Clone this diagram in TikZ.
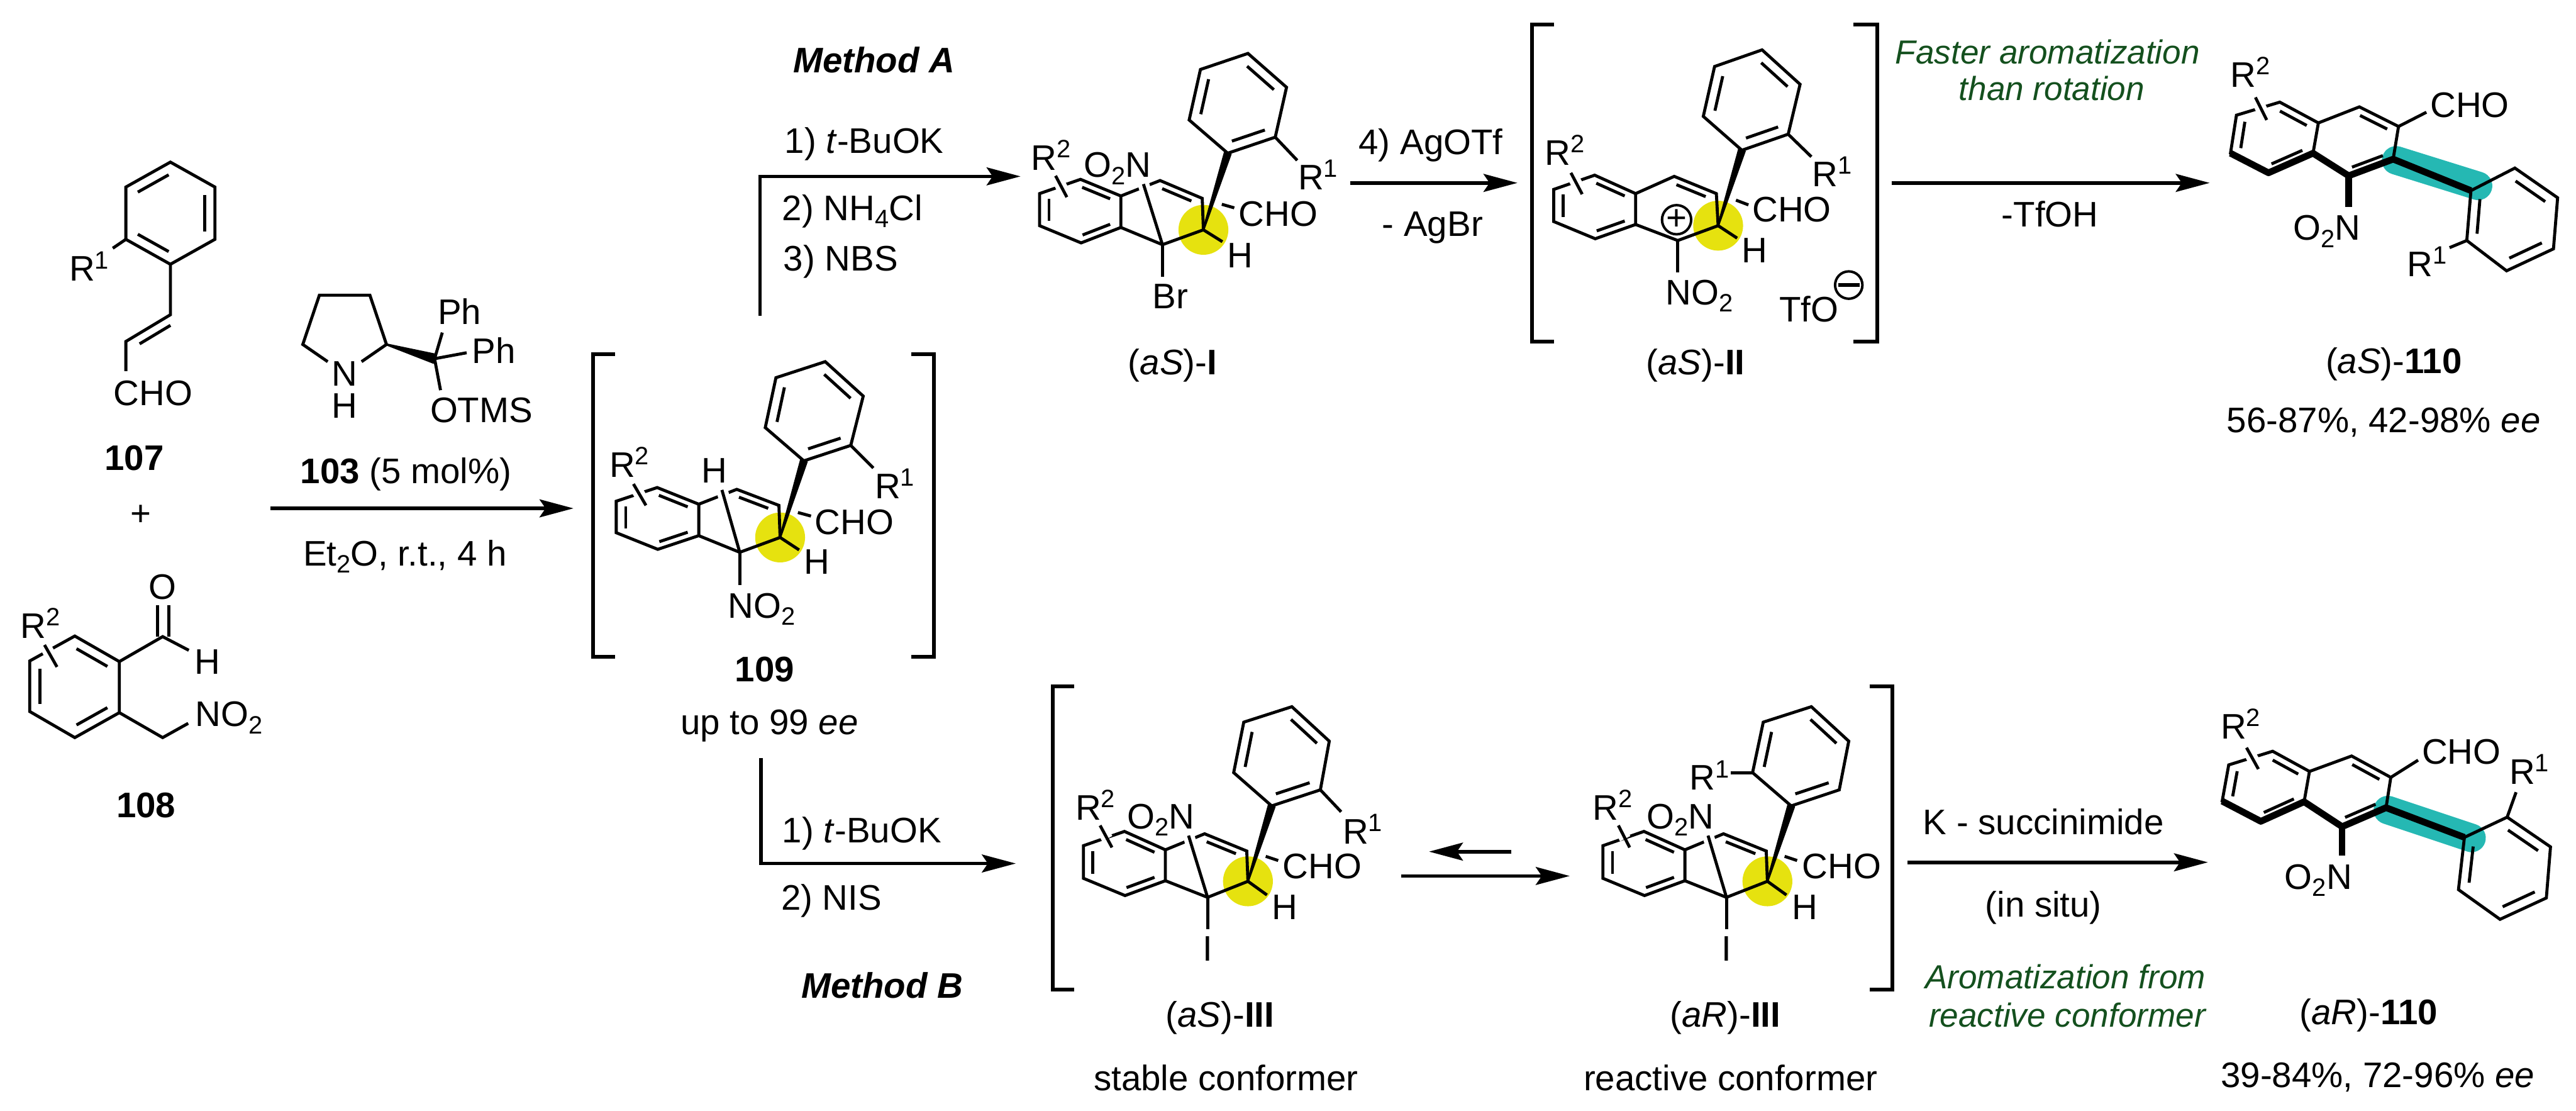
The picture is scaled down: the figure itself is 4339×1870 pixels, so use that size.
\documentclass[tikz,border=0pt]{standalone}
\usepackage{fontspec}
\setmainfont{Liberation Sans}
\usetikzlibrary{arrows.meta,calc}
\definecolor{hlyellow}{HTML}{E6E20F}
\definecolor{hlteal}{HTML}{25B8B3}
\definecolor{notegreen}{HTML}{14501E}

% raised and lowered digits of the labels
\newcommand{\sups}[1]{\raisebox{6pt}{\fontsize{12}{14}\selectfont #1}}
\newcommand{\subs}[1]{\raisebox{-3.4pt}{\fontsize{12}{14}\selectfont #1}}
% inner line of a double bond, pulled toward the ring centre
\newcommand{\inbond}[3]{\draw[bond] ($(#1)!.05!(#2)!.23!(#3)$) -- ($(#2)!.05!(#1)!.23!(#3)$);}
% six membered ring, double bonds on 1-2, 3-4, 5-6
\newcommand{\hexring}[7]{%
    \coordinate (#1-1) at (#2); \coordinate (#1-2) at (#3); \coordinate (#1-3) at (#4);
    \coordinate (#1-4) at (#5); \coordinate (#1-5) at (#6); \coordinate (#1-6) at (#7);
    \coordinate (#1-c) at ($(#1-1)!.5!(#1-4)$);
    \draw[bond] (#1-1) -- (#1-2) -- (#1-3) -- (#1-4) -- (#1-5) -- (#1-6) -- cycle;
    \inbond{#1-1}{#1-2}{#1-c}\inbond{#1-3}{#1-4}{#1-c}\inbond{#1-5}{#1-6}{#1-c}}
% second ring fused on 2-3 of a hexring
\newcommand{\sidering}[6]{%
    \coordinate (#1-2) at (#3); \coordinate (#1-3) at (#4);
    \coordinate (#1-4) at (#5); \coordinate (#1-5) at (#6);
    \coordinate (#1-c) at ($(#2-2)!.5!(#1-4)$);
    \draw[bond] (#2-2) -- (#1-2) -- (#1-3) -- (#1-4) -- (#1-5) -- (#2-3);
    \inbond{#1-2}{#1-3}{#1-c}}
% bond that passes over another one
\newcommand{\crossbond}[2]{%
    \draw[halo] (#1) -- ($(#1)!.6!(#2)$);
    \draw[bond] (#1) -- (#2);}
\newcommand{\wedgebond}[3]{\filldraw[line width=1pt, line join=round] (#1) -- ($(#2)!#3!90:(#1)$) -- ($(#2)!#3!-90:(#1)$) -- cycle;}

\begin{document}
\begin{tikzpicture}
    [x=0.01cm, y=-0.01cm,
    bond/.style={line width=1.45pt, black, line join=miter},
    heavy/.style={line width=3.2pt, black, line join=round},
    halo/.style={line width=5.5pt, white},
    brack/.style={line width=1.8pt, black},
    arr/.style={line width=1.7pt, black, -{Stealth[length=0.57cm, width=0.30cm, inset=0.1cm]}},
    lab/.style={font=\fontsize{17}{20}\selectfont, inner sep=0pt, text height=12.2pt, text depth=0pt},
    note/.style={font=\fontsize{16}{20}\selectfont\itshape, text=notegreen, inner sep=0pt, text height=11.5pt, text depth=0pt},
    spot/.style={fill=hlyellow, draw=none},
    band/.style={line width=0.48cm, hlteal, line cap=round},
    charge/.style={circle, draw, line width=1.2pt, minimum size=0.46cm, inner sep=0pt, font=\fontsize{17}{20}\selectfont}]

    \useasboundingbox (0,0) rectangle (4339,1870);

    % 107
    \hexring{a}{212,315}{287,273}{362,315}{362,403}{287,445}{212,403}
    \coordinate (av1) at (287,530);
    \coordinate (av2) at (212,575);
    \coordinate (avc) at (300,600);
    \draw[bond] (a-5) -- (av1) -- (av2) -- (212,625) coordinate (avo);
    \inbond{av1}{av2}{avc}
    \draw[bond] (a-6) -- (190,418) coordinate (ar);
    \node[lab] (r1a) at (150,452) {R\sups{1}};
    \node[lab] (choa) at (258,661) {CHO};
    \node[lab] (n107) at (226,770) {\textbf{107}};
    \node[lab] (plus) at (237,864) {+};

    % 108
    \hexring{b}{126,1071}{201,1114}{201,1200}{126,1242}{50,1198}{50,1113}
    \crossbond{75,1086}{96,1123}
    \node[lab] (r2b) at (68,1053) {R\sups{2}};
    \coordinate (bc) at (274,1072);
    \draw[bond] (b-2) -- (bc) -- (318,1095) coordinate (bh);
    \draw[bond] (265,1072) -- (265,1019) coordinate (bo1);
    \draw[bond] (284,1072) -- (284,1019) coordinate (bo2);
    \node[lab] (ob) at (274,988) {O};
    \node[lab] (hb) at (349,1114) {H};
    \coordinate (bm) at (274,1242);
    \draw[bond] (b-3) -- (bm) -- (317,1218) coordinate (bn);
    \node[lab] (nob) at (386,1202) {NO\subs{2}};
    \node[lab] (n108) at (246,1355) {\textbf{108}};

    % 103 over the first arrow
    \coordinate (c1) at (538,497);
    \coordinate (c2) at (623,497);
    \coordinate (c3) at (651,580);
    \coordinate (c4) at (510,580);
    \coordinate (c5) at (732,604);
    \draw[bond] (552,609) coordinate (cn1) -- (c4) -- (c1) -- (c2) -- (c3) -- (609,609) coordinate (cn2);
    \wedgebond{c3}{c5}{0.07cm}
    \draw[bond] (c5) -- (745,560) coordinate (cp1);
    \draw[bond] (c5) -- (786,594) coordinate (cp2);
    \draw[bond] (c5) -- (742,657) coordinate (cp3);
    \node[lab] (nc) at (580,628) {N};
    \node[lab] (hc) at (580,682) {H};
    \node[lab] (ph1) at (774,525) {Ph};
    \node[lab] (ph2) at (832,590) {Ph};
    \node[lab] (otms) at (811,690) {OTMS};
    \node[lab] (n103) at (684,793) {\textbf{103} (5 mol\%)};
    \coordinate (s1) at (456,856);
    \coordinate (e1) at (966,856);
    \draw[arr] (s1) -- (e1);
    \node[lab] (et) at (682,931) {Et\subs{2}O, r.t., 4 h};

    % 109
    \draw[brack] (1036,596) -- (999,596) -- (999,1106) -- (1036,1106);
    \draw[brack] (1535,596) -- (1573,596) -- (1573,1106) -- (1535,1106);
    \fill[spot] (1314,905) circle (42);
    \hexring{d}{1107,821}{1177,849}{1177,902}{1108,925}{1038,897}{1038,844}
    \sidering{e}{d}{1241,824}{1312,851}{1314,905}{1246,930}
    \hexring{f}{1354,776}{1433,750}{1454,667}{1390,609}{1307,636}{1289,720}
    \crossbond{1067,815}{1088,851}
    \crossbond{1216,825}{e-5}
    \wedgebond{e-4}{f-1}{0.05cm}
    \draw[bond] (f-2) -- (1471,788) coordinate (dr1);
    \draw[bond] (1344,863) coordinate (dc1) -- (1366,869) coordinate (dc2);
    \draw[bond] (e-4) -- (1346,926) coordinate (dh);
    \draw[bond] (e-5) -- (1246,985) coordinate (dn);
    \node[lab] (r2d) at (1060,782) {R\sups{2}};
    \node[lab] (hd1) at (1203,792) {H};
    \node[lab] (r1d) at (1507,818) {R\sups{1}};
    \node[lab] (chod) at (1439,878) {CHO};
    \node[lab] (hd2) at (1376,945) {H};
    \node[lab] (nod) at (1283,1019) {NO\subs{2}};
    \node[lab] (n109) at (1288,1126) {\textbf{109}};
    \node[lab] (ee109) at (1296,1215) {up to 99 \textit{ee}};

    % Method A
    \coordinate (s2) at (1280,532);
    \coordinate (e2) at (1719,297);
    \draw[arr] (s2) |- (e2);
    \node[lab] (ma) at (1472,101) {\textbf{\textit{Method A}}};
    \node[lab, anchor=west] (ma1) at (1321,237) {1) \textit{t}-BuOK};
    \node[lab, anchor=west] (ma2) at (1317,350) {2) NH\subs{4}Cl};
    \node[lab, anchor=west] (ma3) at (1319,435) {3) NBS};

    % (aS)-I
    \fill[spot] (2027,387) circle (42);
    \hexring{g}{1820,302}{1888,330}{1888,383}{1821,409}{1751,380}{1751,326}
    \sidering{h}{g}{1954,304}{2025,334}{2027,387}{1958,412}
    \hexring{i}{2068,258}{2148,231}{2167,147}{2102,90}{2022,117}{2003,202}
    \crossbond{1778,296}{1797,332}
    \crossbond{1926,310}{h-5}
    \wedgebond{h-4}{i-1}{0.05cm}
    \draw[bond] (i-2) -- (2185,270) coordinate (gr1);
    \draw[bond] (2058,344) coordinate (gc1) -- (2079,350) coordinate (gc2);
    \draw[bond] (h-4) -- (2059,407) coordinate (gh);
    \draw[bond] (h-5) -- (1958,466) coordinate (gb);
    \node[lab] (r2g) at (1770,265) {R\sups{2}};
    \node[lab] (nog) at (1882,277) {O\subs{2}N};
    \node[lab] (r1g) at (2220,298) {R\sups{1}};
    \node[lab] (chog) at (2153,359) {CHO};
    \node[lab] (hg) at (2089,429) {H};
    \node[lab] (brg) at (1971,498) {Br};
    \node[lab] (n1) at (1975,609) {(\textit{aS})-\textbf{I}};

    % to (aS)-II
    \coordinate (s3) at (2274,308);
    \coordinate (e3) at (2556,308);
    \draw[arr] (s3) -- (e3);
    \node[lab] (ag1) at (2410,239) {4) AgOTf};
    \node[lab] (ag2) at (2413,376) {- AgBr};

    % (aS)-II
    \draw[brack] (2618,41) -- (2580,41) -- (2580,575) -- (2618,575);
    \draw[brack] (3122,41) -- (3162,41) -- (3162,575) -- (3122,575);
    \fill[spot] (2894,380) circle (42);
    \hexring{k}{2686,295}{2755,326}{2755,378}{2687,402}{2617,373}{2617,319}
    \sidering{l}{k}{2820,297}{2891,326}{2894,380}{2826,405}
    \hexring{m}{2934,253}{3012,226}{3032,142}{2968,84}{2888,112}{2869,196}
    \crossbond{2646,291}{2665,327}
    \wedgebond{l-4}{m-1}{0.05cm}
    \draw[bond] (m-2) -- (3051,264) coordinate (kr1);
    \draw[bond] (2924,337) coordinate (kc1) -- (2945,345) coordinate (kc2);
    \draw[bond] (l-4) -- (2926,401) coordinate (kh);
    \draw[bond] (l-5) -- (2826,459) coordinate (kn);
    \node[charge] (kplus) at (2824,370) {+};
    \node[lab] (r2k) at (2636,257) {R\sups{2}};
    \node[lab] (r1k) at (3086,293) {R\sups{1}};
    \node[lab] (chok) at (3018,352) {CHO};
    \node[lab] (hk) at (2955,421) {H};
    \node[lab] (nok) at (2862,492) {NO\subs{2}};
    \node[lab] (tfo) at (3047,520) {TfO};
    \node[charge] (kminus) at (3114,480) {};
    \draw[line width=1.8pt, shorten <=0.07cm, shorten >=0.07cm] (kminus.west) -- (kminus.east);
    \node[lab] (n2) at (2856,609) {(\textit{aS})-\textbf{II}};

    % to (aS)-110
    \coordinate (s4) at (3186,308);
    \coordinate (e4) at (3722,308);
    \draw[arr] (s4) -- (e4);
    \node[note] (fa1) at (3449,87) {Faster aromatization};
    \node[note] (fa2) at (3456,149) {than rotation};
    \node[lab] (tf) at (3453,360) {-TfOH};

    % (aS)-110
    \coordinate (pa1) at (4036,270);
    \coordinate (pa2) at (4174,313);
    \draw[band] (pa1) -- (pa2);
    \hexring{n}{3840,172}{3905,207}{3896,258}{3821,291}{3757,258}{3767,194}
    \sidering{o}{n}{3974,180}{4040,213}{4031,268}{3956,296}
    \inbond{o-4}{o-5}{o-c}
    \hexring{q}{4236,283}{4308,333}{4301,419}{4222,456}{4155,405}{4162,321}
    \draw[heavy] (n-5) -- (n-4) -- (n-3) -- (o-5) -- (o-4) -- (q-6);
    \draw[heavy] (o-5) -- (3956,349) coordinate (qn);
    \crossbond{3799,164}{3818,202}
    \draw[bond] (o-3) -- (4087,189) coordinate (qc);
    \draw[bond] (q-5) -- (4126,417) coordinate (qr);
    \node[lab] (r2q) at (3790,125) {R\sups{2}};
    \node[lab] (choq) at (4160,176) {CHO};
    \node[lab] (noq) at (3919,383) {O\subs{2}N};
    \node[lab] (r1q) at (4088,444) {R\sups{1}};
    \node[lab] (n110a) at (4032,607) {(\textit{aS})-\textbf{110}};
    \node[lab] (ee110a) at (4015,707) {56-87\%, 42-98\% \textit{ee}};

    % Method B
    \coordinate (s5) at (1282,1277);
    \coordinate (e5) at (1711,1454);
    \draw[arr] (s5) |- (e5);
    \node[lab, anchor=west] (mb1) at (1317,1398) {1) \textit{t}-BuOK};
    \node[lab, anchor=west] (mb2) at (1315,1511) {2) NIS};
    \node[lab] (mb) at (1486,1659) {\textbf{\textit{Method B}}};

    % (aS)-III
    \draw[brack] (1809,1156) -- (1773,1156) -- (1773,1666) -- (1809,1666);
    \fill[spot] (2102,1484) circle (42);
    \hexring{r}{1894,1400}{1963,1431}{1963,1483}{1895,1508}{1825,1479}{1825,1424}
    \sidering{t}{r}{2029,1404}{2100,1433}{2102,1484}{2034,1511}
    \hexring{u}{2142,1357}{2224,1330}{2239,1248}{2176,1190}{2095,1216}{2078,1301}
    \crossbond{1853,1390}{1873,1427}
    \crossbond{2002,1407}{t-5}
    \wedgebond{t-4}{u-1}{0.05cm}
    \draw[bond] (u-2) -- (2259,1367) coordinate (rr1);
    \draw[bond] (2132,1442) coordinate (rc1) -- (2153,1449) coordinate (rc2);
    \draw[bond] (t-4) -- (2134,1507) coordinate (rh);
    \draw[bond] (t-5) -- (2034,1565) coordinate (ri);
    \node[lab] (r2r) at (1845,1359) {R\sups{2}};
    \node[lab] (nor) at (1955,1374) {O\subs{2}N};
    \node[lab] (r1r) at (2295,1400) {R\sups{1}};
    \node[lab] (chor) at (2227,1458) {CHO};
    \node[lab] (hr) at (2164,1527) {H};
    \node[lab] (ir) at (2034,1597) {I};
    \node[lab] (n3s) at (2055,1708) {(\textit{aS})-\textbf{III}};
    \node[lab] (cs) at (2065,1815) {stable conformer};

    % equilibrium
    \coordinate (s6) at (2546,1434);
    \coordinate (e6) at (2407,1434);
    \coordinate (s7) at (2360,1475);
    \coordinate (e7) at (2644,1475);
    \draw[arr] (s6) -- (e6);
    \draw[arr] (s7) -- (e7);

    % (aR)-III
    \draw[brack] (3149,1156) -- (3187,1156) -- (3187,1666) -- (3149,1666);
    \fill[spot] (2977,1484) circle (42);
    \hexring{v}{2769,1400}{2838,1431}{2838,1483}{2770,1508}{2700,1479}{2700,1424}
    \sidering{w}{v}{2903,1404}{2975,1433}{2977,1484}{2908,1511}
    \hexring{z}{3017,1357}{3098,1330}{3114,1248}{3051,1190}{2970,1216}{2952,1301}
    \crossbond{2726,1390}{2745,1427}
    \crossbond{2877,1407}{w-5}
    \wedgebond{w-4}{z-1}{0.05cm}
    \draw[bond] (z-6) -- (2915,1301) coordinate (vr1);
    \draw[bond] (3006,1442) coordinate (vc1) -- (3027,1449) coordinate (vc2);
    \draw[bond] (w-4) -- (3009,1507) coordinate (vh);
    \draw[bond] (w-5) -- (2908,1565) coordinate (vi);
    \node[lab] (r2v) at (2716,1359) {R\sups{2}};
    \node[lab] (nov) at (2830,1374) {O\subs{2}N};
    \node[lab] (r1v) at (2879,1309) {R\sups{1}};
    \node[lab] (chov) at (3102,1458) {CHO};
    \node[lab] (hv) at (3040,1527) {H};
    \node[lab] (iv) at (2908,1597) {I};
    \node[lab] (n3r) at (2906,1708) {(\textit{aR})-\textbf{III}};
    \node[lab] (cr) at (2915,1815) {reactive conformer};

    % to (aR)-110
    \coordinate (s8) at (3213,1452);
    \coordinate (e8) at (3719,1452);
    \draw[arr] (s8) -- (e8);
    \node[lab] (ks) at (3442,1384) {K - succinimide};
    \node[lab] (situ) at (3442,1522) {(in situ)};
    \node[note] (fb1) at (3479,1645) {Aromatization from};
    \node[note] (fb2) at (3482,1709) {reactive conformer};

    % (aR)-110
    \coordinate (pb1) at (4022,1364);
    \coordinate (pb2) at (4163,1411);
    \draw[band] (pb1) -- (pb2);
    \hexring{aa}{3828,1265}{3890,1299}{3881,1350}{3808,1383}{3743,1349}{3754,1288}
    \sidering{ab}{aa}{3961,1273}{4027,1309}{4019,1360}{3945,1392}
    \inbond{ab-4}{ab-5}{ab-c}
    \hexring{ac}{4223,1376}{4296,1426}{4289,1512}{4211,1548}{4141,1498}{4151,1410}
    \draw[heavy] (aa-5) -- (aa-4) -- (aa-3) -- (ab-5) -- (ab-4) -- (ac-6);
    \draw[heavy] (ab-5) -- (3945,1441) coordinate (acn);
    \crossbond{3784,1259}{3804,1295}
    \draw[bond] (ab-3) -- (4073,1280) coordinate (acc);
    \draw[bond] (ac-1) -- (4238,1334) coordinate (acr);
    \node[lab] (r2ac) at (3774,1223) {R\sups{2}};
    \node[lab] (choac) at (4146,1265) {CHO};
    \node[lab] (noac) at (3905,1476) {O\subs{2}N};
    \node[lab] (r1ac) at (4260,1299) {R\sups{1}};
    \node[lab] (n110b) at (3990,1704) {(\textit{aR})-\textbf{110}};
    \node[lab] (ee110b) at (4005,1810) {39-84\%, 72-96\% \textit{ee}};
\end{tikzpicture}
\end{document}
